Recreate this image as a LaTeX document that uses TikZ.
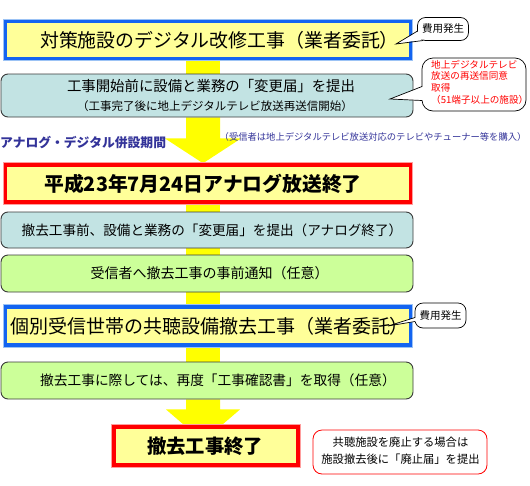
\documentclass[tikz,border=0pt]{standalone}
\usepackage{fontspec}
\setmainfont{Noto Sans CJK JP}
\usetikzlibrary{calc}
\pgfdeclarelayer{bg}
\pgfsetlayers{bg,main}
\definecolor{boxyellow}{HTML}{FFFF99}
\definecolor{connyellow}{HTML}{FFFF00}
\definecolor{boxblue}{HTML}{1464F0}
\definecolor{lightblue}{HTML}{9CC3F5}
\definecolor{boxred}{HTML}{FF0000}
\definecolor{lightred}{HTML}{FF9E9E}
\definecolor{boxcyan}{HTML}{C2E3E3}
\definecolor{boxgreen}{HTML}{CCFF99}
\definecolor{boxgray}{HTML}{3A3A3A}
\definecolor{labelblue}{HTML}{333399}
\newcommand{\fs}[2]{\fontsize{#1}{#2}\selectfont}
\begin{document}
\begin{tikzpicture}[x=1pt,y=-1pt,
  thickbox/.style={rectangle, fill=boxyellow, line width=3.5pt, minimum width=405pt, minimum height=37pt, inner sep=0pt},
  bluebox/.style={thickbox, draw=boxblue},
  redbox/.style={thickbox, draw=boxred},
  roundbox/.style={rectangle, rounded corners=7pt, draw=boxgray, line width=0.9pt, minimum width=412pt, inner sep=0pt},
  cyanbox/.style={roundbox, fill=boxcyan},
  greenbox/.style={roundbox, fill=boxgreen},
  txt/.style={inner sep=0pt},
  bubble/.style={rectangle, rounded corners=8pt, draw=black, line width=0.7pt, fill=white, minimum width=51pt, minimum height=23pt, inner sep=0pt, font=\fs{10.5}{12}},
  connector/.style={fill=connyellow},
  tailline/.style={draw=black, line width=0.7pt}
]
\useasboundingbox (0,0) rectangle (530,485);
\coordinate (ax) at (203,0);

% main boxes
\node[bluebox] (b1) at (208,40) {};
\draw[lightblue, line width=0.8pt] ($(b1.north west)+(-0.5,-0.5)$) rectangle ($(b1.south east)+(0.5,0.5)$);
\node[txt, font=\fs{18.9}{22}] (b1t) at (219.5,40) {対策施設のデジタル改修工事（業者委託）};

\node[cyanbox, minimum height=43pt] (b2) at (207,95.5) {};
\node[txt, font=\fs{14.4}{16}] (b2t) at (211,86) {工事開始前に設備と業務の「変更届」を提出};
\node[txt, font=\fs{11.5}{13}] (b2u) at (215,106) {（工事完了後に地上デジタルテレビ放送再送信開始）};

\node[redbox] (b3) at (208,183.5) {};
\draw[lightred, line width=0.8pt] ($(b3.north west)+(-0.5,-0.5)$) rectangle ($(b3.south east)+(0.5,0.5)$);
\node[txt, font=\fs{19.8}{22}\bfseries] (b3t) at (203,183.5) {平成23年7月24日アナログ放送終了};

\node[cyanbox, minimum height=36pt] (b4) at (207,230) {};
\node[txt, font=\fs{13.6}{16}] (b4t) at (212,230) {撤去工事前、設備と業務の「変更届」を提出（アナログ終了）};

\node[greenbox, minimum height=37pt] (b5) at (207,273.5) {};
\node[txt, font=\fs{14}{16}] (b5t) at (209.5,273.5) {受信者へ撤去工事の事前通知（任意）};

\node[bluebox, minimum height=38pt] (b6) at (208,326) {};
\draw[lightblue, line width=0.8pt] ($(b6.north west)+(-0.5,-0.5)$) rectangle ($(b6.south east)+(0.5,0.5)$);
\node[txt, font=\fs{19}{22}] (b6t) at (209.5,326) {個別受信世帯の共聴設備撤去工事（業者委託）};

\node[greenbox, minimum height=37pt] (b7) at (207,380.5) {};
\node[txt, font=\fs{13.7}{16}] (b7t) at (218,380.5) {撤去工事に際しては、再度「工事確認書」を取得（任意）};

\node[redbox, minimum width=184pt, minimum height=38pt] (b8) at (206,446) {};
\draw[lightred, line width=0.8pt] ($(b8.north west)+(-0.5,-0.5)$) rectangle ($(b8.south east)+(0.5,0.5)$);
\node[txt, font=\fs{19.3}{22}\bfseries] (b8t) at (205,446) {撤去工事終了};

% labels
\node[anchor=west, txt, text=labelblue, font=\fs{12.8}{15}\bfseries] (lab) at (0,143) {アナログ・デジタル併設期間};
\node[anchor=west, txt, text=labelblue, font=\fs{9.3}{11}] (note) at (219.5,137) {（受信者は地上デジタルテレビ放送対応のテレビやチューナー等を購入）};

% bubbles
\node[bubble] (c1) at (443,29) {費用発生};
\coordinate (t1) at (396,44);
\fill[white] ($(c1.west)+(1.5,2)$) -- (t1) -- ($(c1.south west)+(6,-1.5)$) -- cycle;
\draw[tailline] ($(c1.west)+(0.35,2)$) -- (t1) -- ($(c1.south west)+(6,-0.35)$);

\node[bubble, minimum height=25pt] (c2) at (440.5,315.5) {費用発生};
\coordinate (t2) at (388,326);
\fill[white] ($(c2.west)+(1.5,2)$) -- (t2) -- ($(c2.west)+(1.5,6)$) -- cycle;
\draw[tailline] ($(c2.west)+(0.35,2)$) -- (t2) -- ($(c2.west)+(0.35,6)$);

\node[rectangle, rounded corners=11pt, draw=black, line width=0.7pt, fill=white, minimum width=104pt, minimum height=53pt, inner sep=0pt] (c3) at (474,84.5) {};
\coordinate (t3) at (390,99);
\fill[white] ($(c3.west)+(1.5,2)$) -- (t3) -- ($(c3.west)+(1.5,16)$) -- cycle;
\draw[tailline] ($(c3.west)+(0.35,2)$) -- (t3) -- ($(c3.west)+(0.35,16)$);
\node[anchor=west, txt, align=left, text=boxred, font=\fs{9.6}{11.6}] (c3t) at (431,82)
  {地上デジタルテレビ\\放送の再送信同意\\取得\\（51端子以上の施設）};

\node[rectangle, rounded corners=9pt, draw=boxred, line width=0.8pt, fill=white, minimum width=174pt, minimum height=44pt, inner sep=0pt] (c4) at (400,452) {};
\node[txt, font=\fs{11.3}{13}] (c4a) at (400.5,442) {共聴施設を廃止する場合は};
\node[txt, font=\fs{11.3}{13}] (c4b) at (400.5,459) {施設撤去後に「廃止届」を提出};

% connectors
\begin{pgfonlayer}{bg}
\fill[connector] ($(b1.south -| ax)+(-17,0)$) rectangle ($(b2.north -| ax)+(17,0)$);
\coordinate (h1) at ($(b2.south -| ax)+(0,21)$);
\fill[connector] ($(b2.south -| ax)+(-17,0)$) -- ($(h1)+(-17,0)$) -- ($(h1)+(-38,0)$) -- (b3.north -| ax) -- ($(h1)+(38,0)$) -- ($(h1)+(17,0)$) -- ($(b2.south -| ax)+(17,0)$) -- cycle;
\fill[connector] ($(b3.south -| ax)+(-17,0)$) rectangle ($(b4.north -| ax)+(17,0)$);
\fill[connector] ($(b4.south -| ax)+(-17,0)$) rectangle ($(b5.north -| ax)+(17,0)$);
\fill[connector] ($(b5.south -| ax)+(-17,0)$) rectangle ($(b6.north -| ax)+(17,0)$);
\fill[connector] ($(b6.south -| ax)+(-17,0)$) rectangle ($(b7.north -| ax)+(17,0)$);
\coordinate (h2) at ($(b7.south -| ax)+(0,10)$);
\fill[connector] ($(b7.south -| ax)+(-17,0)$) -- ($(h2)+(-17,0)$) -- ($(h2)+(-37,0)$) -- ($(b8.north -| ax)+(0,16)$) -- ($(h2)+(37,0)$) -- ($(h2)+(17,0)$) -- ($(b7.south -| ax)+(17,0)$) -- cycle;
\end{pgfonlayer}
\end{tikzpicture}
\end{document}
